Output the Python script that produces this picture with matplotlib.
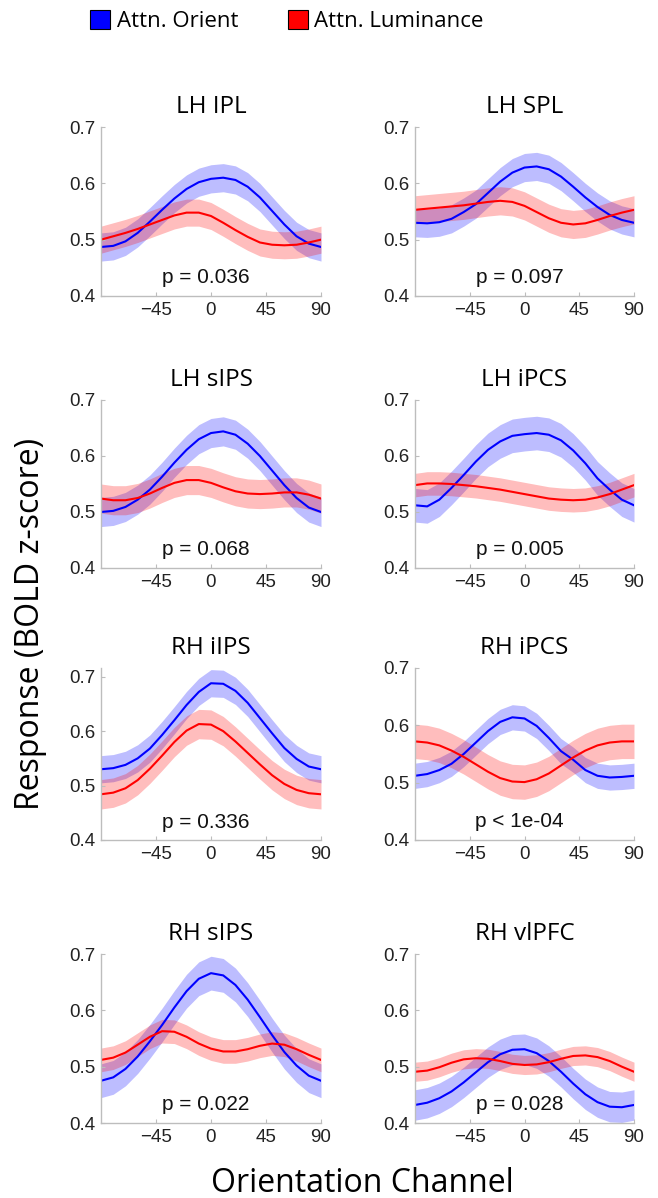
import matplotlib
matplotlib.use('Agg')
import matplotlib.pyplot as plt
from matplotlib.patches import Patch
import numpy as np

# orientation channels (deg)
channels = list(range(-90, 91, 10))

regions = ['LH IPL', 'LH SPL', 'LH sIPS', 'LH iPCS',
           'RH iIPS', 'RH iPCS', 'RH sIPS', 'RH vlPFC']
p_labels = ['p = 0.036', 'p = 0.097', 'p = 0.068', 'p = 0.005',
            'p = 0.336', 'p < 1e-04', 'p = 0.022', 'p = 0.028']

# attend orientation (blue) mean responses
orient = [
    [0.487, 0.489, 0.497, 0.512, 0.532, 0.553, 0.573, 0.590, 0.602, 0.608,
     0.610, 0.606, 0.594, 0.575, 0.551, 0.527, 0.506, 0.493, 0.487],
    [0.530, 0.529, 0.531, 0.537, 0.549, 0.563, 0.583, 0.603, 0.619, 0.628,
     0.630, 0.625, 0.612, 0.594, 0.575, 0.558, 0.544, 0.535, 0.530],
    [0.500, 0.502, 0.509, 0.522, 0.540, 0.563, 0.588, 0.611, 0.630, 0.641,
     0.644, 0.638, 0.622, 0.600, 0.574, 0.548, 0.525, 0.508, 0.500],
    [0.512, 0.510, 0.522, 0.543, 0.566, 0.590, 0.611, 0.626, 0.636, 0.639,
     0.641, 0.638, 0.628, 0.610, 0.587, 0.560, 0.540, 0.522, 0.512],
    [0.530, 0.532, 0.538, 0.550, 0.568, 0.593, 0.620, 0.648, 0.672, 0.688,
     0.687, 0.674, 0.652, 0.624, 0.596, 0.569, 0.549, 0.535, 0.530],
    [0.512, 0.515, 0.522, 0.533, 0.550, 0.570, 0.590, 0.606, 0.614, 0.612,
     0.599, 0.578, 0.555, 0.540, 0.522, 0.512, 0.509, 0.510, 0.512],
    [0.475, 0.481, 0.496, 0.518, 0.545, 0.574, 0.605, 0.634, 0.656, 0.666,
     0.662, 0.645, 0.619, 0.588, 0.556, 0.526, 0.502, 0.484, 0.475],
    [0.432, 0.436, 0.444, 0.456, 0.472, 0.490, 0.508, 0.522, 0.530, 0.531,
     0.524, 0.510, 0.491, 0.470, 0.451, 0.437, 0.429, 0.428, 0.432],
]

# attend luminance (red) mean responses
lumin = [
    [0.500, 0.506, 0.512, 0.519, 0.527, 0.535, 0.543, 0.548, 0.548, 0.542,
     0.530, 0.517, 0.505, 0.495, 0.491, 0.490, 0.491, 0.495, 0.500],
    [0.553, 0.555, 0.557, 0.559, 0.561, 0.564, 0.567, 0.569, 0.567, 0.560,
     0.549, 0.538, 0.530, 0.527, 0.529, 0.535, 0.542, 0.548, 0.553],
    [0.524, 0.521, 0.521, 0.525, 0.533, 0.543, 0.552, 0.557, 0.557, 0.552,
     0.544, 0.537, 0.533, 0.532, 0.533, 0.535, 0.535, 0.531, 0.524],
    [0.548, 0.551, 0.551, 0.550, 0.548, 0.546, 0.543, 0.540, 0.536, 0.532,
     0.528, 0.524, 0.522, 0.521, 0.522, 0.526, 0.532, 0.540, 0.548],
    [0.484, 0.487, 0.495, 0.510, 0.531, 0.555, 0.580, 0.601, 0.613, 0.612,
     0.600, 0.581, 0.560, 0.539, 0.519, 0.503, 0.492, 0.486, 0.484],
    [0.572, 0.570, 0.565, 0.556, 0.545, 0.532, 0.519, 0.508, 0.502, 0.501,
     0.506, 0.516, 0.530, 0.544, 0.556, 0.565, 0.570, 0.572, 0.572],
    [0.512, 0.516, 0.525, 0.539, 0.553, 0.563, 0.562, 0.553, 0.541, 0.532,
     0.527, 0.527, 0.531, 0.537, 0.541, 0.539, 0.531, 0.521, 0.512],
    [0.491, 0.493, 0.499, 0.507, 0.513, 0.515, 0.514, 0.510, 0.505, 0.503,
     0.504, 0.508, 0.514, 0.519, 0.520, 0.517, 0.510, 0.500, 0.491],
]

# half-width of the shaded error band
orient_sem = [0.025, 0.025, 0.026, 0.030, 0.025, 0.022, 0.030, 0.027]
lumin_sem = [0.024, 0.025, 0.026, 0.021, 0.027, 0.030, 0.021, 0.017]

y_top = [0.7, 0.7, 0.7, 0.7, 0.716, 0.7, 0.7, 0.7]

W, H = 658, 1198
fig = plt.figure(figsize=(W / 100, H / 100), dpi=100)

col_x = [(101, 321), (415, 634)]
row_y = [(127, 296), (400, 568), (668, 840), (954, 1123)]

tick_font = 'Liberation Sans'
label_font = 'Open Sans'
spine_col = '#bdbdbd'
x = np.array(channels)

for i, name in enumerate(regions):
    r, c = divmod(i, 2)
    x0, x1 = col_x[c]
    t0, t1 = row_y[r]
    ax = fig.add_axes([x0 / W, 1 - t1 / H, (x1 - x0) / W, (t1 - t0) / H])

    ob = np.array(orient[i])
    lu = np.array(lumin[i])
    ax.fill_between(x, ob - orient_sem[i], ob + orient_sem[i],
                    color='blue', alpha=0.26, lw=0)
    ax.plot(x, ob, color='blue', lw=1.5)
    ax.fill_between(x, lu - lumin_sem[i], lu + lumin_sem[i],
                    color='red', alpha=0.26, lw=0)
    ax.plot(x, lu, color='red', lw=1.5)

    ax.set_xlim(-90, 90)
    ax.set_ylim(0.4, y_top[i])
    ax.set_xticks([-45, 0, 45, 90])
    ax.set_yticks([0.4, 0.5, 0.6, 0.7])
    ax.set_yticklabels(['0.4', '0.5', '0.6', '0.7'])
    for s in ['top', 'right']:
        ax.spines[s].set_visible(False)
    for s in ['left', 'bottom']:
        ax.spines[s].set_color(spine_col)
        ax.spines[s].set_linewidth(1.0)
    ax.tick_params(direction='in', length=3, color=spine_col,
                   labelsize=13.5, pad=4)
    for lab in ax.get_xticklabels() + ax.get_yticklabels():
        lab.set_family(tick_font)
        lab.set_color('#222222')

    ax.set_title(name, fontsize=17.5, family=label_font, pad=10)
    ax.text(-4, 0.433, p_labels[i], ha='center', va='center',
            fontsize=15, family=tick_font, color='#111111')

fig.text(362 / W, 1 - 1183 / H, 'Orientation Channel', ha='center',
         va='center', fontsize=23, family=label_font)
fig.text(31 / W, 1 - 624 / H, 'Response (BOLD z-score)', ha='center',
         va='center', rotation=90, fontsize=23, family=label_font)

handles = [Patch(facecolor='blue', edgecolor='black', lw=0.8),
           Patch(facecolor='red', edgecolor='black', lw=0.8)]
fig.legend(handles, ['Attn. Orient', 'Attn. Luminance'], loc='center',
           bbox_to_anchor=(287 / W, 1 - 21 / H), ncol=2, frameon=False,
           prop={'family': label_font, 'size': 16},
           handlelength=0.9, handleheight=0.9, handletextpad=0.3,
           columnspacing=2.2)

fig.savefig('out.png', dpi=100)
